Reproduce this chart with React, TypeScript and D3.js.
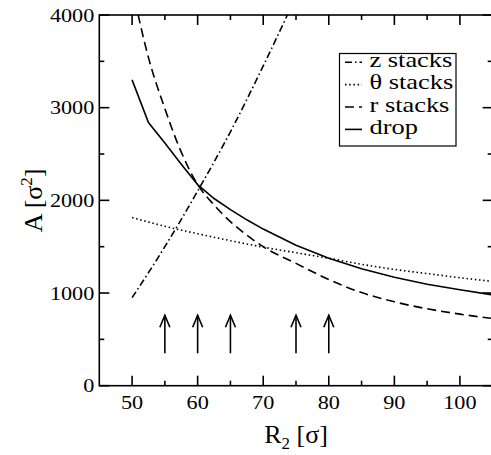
import React from "react";
import * as d3 from "d3";

// ---- data ----
const dropR = [50, 52.5, 55, 57.5, 60, 62.5, 65, 67.5, 70, 75, 80, 85, 90, 95, 100, 105];
const dropA = [3300, 2840, 2620, 2390, 2170, 2020, 1900, 1790, 1690, 1515, 1375, 1262, 1170, 1095, 1035, 980];

const rStackR = [50, 52.5, 55, 57.5, 60, 62.5, 65, 67.5, 70, 75, 80, 85, 90, 95, 100, 105];
const rStackA = [4300, 3540, 2990, 2520, 2170, 1950, 1770, 1625, 1500, 1320, 1145, 1005, 905, 830, 772, 725];

const thetaR = [50, 55, 60, 65, 70, 75, 80, 85, 90, 95, 100, 105];
const thetaA = [1815, 1720, 1640, 1565, 1495, 1435, 1375, 1310, 1255, 1210, 1165, 1125];

const zR = [50, 55, 60, 65, 70, 75];
const zA = [950, 1500, 2100, 2740, 3450, 4200];

const arrowR = [55, 60, 65, 75, 80];
const arrowFrom = 350;
const arrowTo = 760;

const xMajor = [50, 60, 70, 80, 90, 100];
const xMinor = [55, 65, 75, 85, 95];
const yMajor = [0, 1000, 2000, 3000, 4000];
const yMinor = [500, 1500, 2500, 3500];

const legendLabels = ["z stacks", "\u03b8 stacks", "r stacks", "drop"];
const legendDash = ["7,3,1.5,3", "1.5,2.7", "9,5", ""];

// ---- layout ----
const W = 491, H = 455;
const L = 99.3, R = 492.7, T = 15, B = 385.7;
const FONT = "Liberation Serif";

function SText(props: { x: number; y: number; sx: number; size: number; anchor?: string; children: React.ReactNode }) {
  const { x, y, sx, size, anchor, children } = props;
  return (
    <g transform={`translate(${x},${y}) scale(${sx},1)`}>
      <text x={0} y={0} fontSize={size} textAnchor={anchor || "start"} fontFamily={FONT} fill="#000">
        {children}
      </text>
    </g>
  );
}

export default function App() {
  const x = d3.scaleLinear().domain([45, 105]).range([L, R]);
  const y = d3.scaleLinear().domain([0, 4000]).range([B, T]);
  const line = (xs: number[], ys: number[], curve: d3.CurveFactory) =>
    d3.line<number>().x((_, i) => x(xs[i])).y((d) => y(d)).curve(curve)(ys) || "";

  const series = [
    { xs: zR, ys: zA, dash: legendDash[0], curve: d3.curveMonotoneX },
    { xs: thetaR, ys: thetaA, dash: legendDash[1], curve: d3.curveMonotoneX },
    { xs: rStackR, ys: rStackA, dash: legendDash[2], curve: d3.curveMonotoneX },
    { xs: dropR, ys: dropA, dash: legendDash[3], curve: d3.curveLinear },
  ];

  const lx = 339.5, ly = 53.5, lw = 116.5, lh = 92.5;

  return (
    <svg width={W} height={H} style={{ position: "absolute", left: 0, top: 0, background: "#fff" }}>
      <defs>
        <clipPath id="plot">
          <rect x={L} y={T} width={R - L} height={B - T} />
        </clipPath>
      </defs>
      <rect x={0} y={0} width={W} height={H} fill="#fff" />
      <g clipPath="url(#plot)" fill="none" stroke="#000" strokeWidth={1.6}>
        {series.map((s, i) => (
          <path key={i} d={line(s.xs, s.ys, s.curve)} strokeDasharray={s.dash || undefined} />
        ))}
      </g>
      {/* arrows */}
      <g stroke="#000" strokeWidth={1.6} fill="none">
        {arrowR.map((r) => (
          <g key={r}>
            <line x1={x(r)} x2={x(r)} y1={y(arrowFrom)} y2={y(arrowTo)} />
            <path d={`M${x(r) - 5},${y(arrowTo) + 12}L${x(r)},${y(arrowTo)}L${x(r) + 5},${y(arrowTo) + 12}`} />
          </g>
        ))}
      </g>
      {/* frame */}
      <rect x={L} y={T} width={R - L} height={B - T} fill="none" stroke="#000" strokeWidth={1.6} />
      {/* ticks */}
      <g stroke="#000" strokeWidth={1.6}>
        {xMajor.map((v) => (
          <g key={"xM" + v}>
            <line x1={x(v)} x2={x(v)} y1={B} y2={B - 10} />
            <line x1={x(v)} x2={x(v)} y1={T} y2={T + 10} />
          </g>
        ))}
        {xMinor.map((v) => (
          <g key={"xm" + v}>
            <line x1={x(v)} x2={x(v)} y1={B} y2={B - 5} />
            <line x1={x(v)} x2={x(v)} y1={T} y2={T + 5} />
          </g>
        ))}
        {yMajor.map((v) => (
          <g key={"yM" + v}>
            <line x1={L} x2={L + 10} y1={y(v)} y2={y(v)} />
            <line x1={R} x2={R - 10} y1={y(v)} y2={y(v)} />
          </g>
        ))}
        {yMinor.map((v) => (
          <g key={"ym" + v}>
            <line x1={L} x2={L + 5} y1={y(v)} y2={y(v)} />
            <line x1={R} x2={R - 5} y1={y(v)} y2={y(v)} />
          </g>
        ))}
      </g>
      {/* tick labels */}
      {xMajor.map((v) => (
        <SText key={"xl" + v} x={x(v)} y={408.5} sx={1.17} size={19} anchor="middle">{v}</SText>
      ))}
      {yMajor.map((v) => (
        <SText key={"yl" + v} x={L - 5} y={y(v) + 6.5} sx={1.17} size={19} anchor="end">{v}</SText>
      ))}
      {/* axis titles */}
      <text x={(L + R) / 2} y={443} textAnchor="middle" fontSize={26} fontFamily={FONT}>
        R<tspan fontSize={17} dy={6}>2</tspan><tspan dy={-6}> [σ]</tspan>
      </text>
      <text transform={`translate(42,${(T + B) / 2}) rotate(-90)`} textAnchor="middle" fontSize={26} fontFamily={FONT}>
        A [σ<tspan fontSize={17} dy={-10}>2</tspan><tspan dy={10}>]</tspan>
      </text>
      {/* legend */}
      <rect x={lx} y={ly} width={lw} height={lh} fill="#fff" stroke="#000" strokeWidth={1.2} />
      {legendLabels.map((lab, i) => {
        const base = 66.7 + i * 22.4;
        return (
          <g key={lab}>
            <line x1={345} x2={362} y1={base - 4.5} y2={base - 4.5} stroke="#000" strokeWidth={1.6}
              strokeDasharray={legendDash[i] || undefined} />
            <SText x={369.5} y={base} sx={1.2} size={22}>{lab}</SText>
          </g>
        );
      })}
    </svg>
  );
}
